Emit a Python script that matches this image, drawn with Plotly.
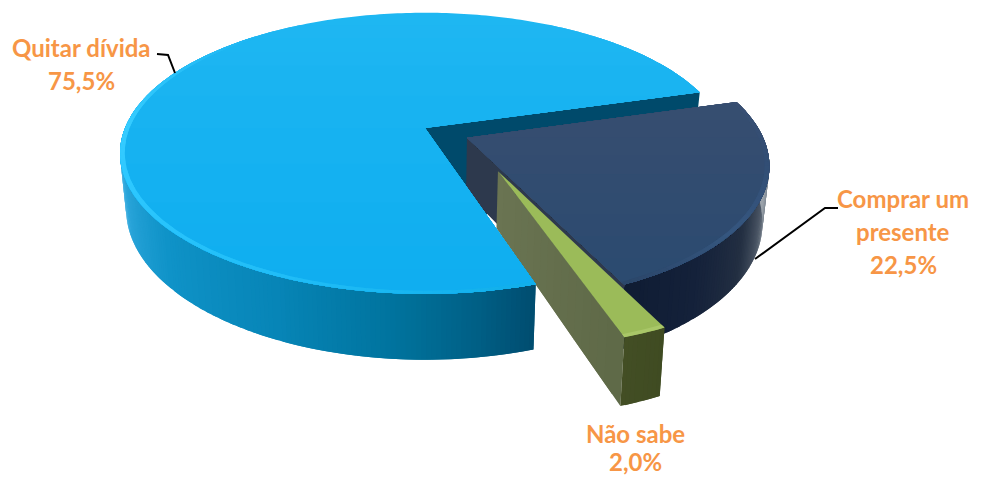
import math

import plotly.graph_objects as go

# Survey answers, listed counter-clockwise around the pie
categories = ["Quitar dívida", "Não sabe", "Comprar um presente"]
shares = [75.5, 2.0, 22.5]
label_lines = [["Quitar dívida"], ["Não sabe"], ["Comprar um", "presente"]]

W, H_PX = 982, 477
START_DEG = 16.0

# Perspective set-up for the tilted disc (pixel axes)
CX, CY = 425.0, 128.0
RX, RY = 300.0, 136.0
PERSP = 0.18
THICK = 54.0
TAPER = 0.02

# Exploded slices: in-plane offset and radius factor
OFFSET = [(0.0, 0.0), (0.23, -0.30), (0.138, -0.07)]
RADIUS = [1.0, 0.95, 0.975]


def project(px, py, z=0.0):
    w = 1.0 / (1.0 + PERSP * py)
    return (CX + RX * px * w * (1 - TAPER * z), CY - RY * py * w + THICK * z * w)


def hex2rgb(c):
    return tuple(int(c[i:i + 2], 16) for i in (1, 3, 5))


def ramp(stops, t):
    t = max(stops[0][0], min(stops[-1][0], t))
    for (t0, c0), (t1, c1) in zip(stops, stops[1:]):
        if t <= t1:
            f = 0 if t1 == t0 else (t - t0) / (t1 - t0)
            a, b = hex2rgb(c0), hex2rgb(c1)
            return "#%02x%02x%02x" % tuple(round(a[i] + (b[i] - a[i]) * f) for i in range(3))
    return stops[-1][1]


fig = go.Figure()


def paint(polys):
    """Add (polygon, colour) pairs in order, merging runs of one colour into a trace."""
    i = 0
    while i < len(polys):
        col = polys[i][1]
        xs, ys = [], []
        while i < len(polys) and polys[i][1] == col:
            poly = polys[i][0]
            xs += [p[0] for p in poly] + [poly[0][0], None]
            ys += [p[1] for p in poly] + [poly[0][1], None]
            i += 1
        fig.add_trace(go.Scatter(x=xs, y=ys, mode="none", fill="toself", fillcolor=col,
                                 hoverinfo="skip"))


def plane(i, theta, r=1.0):
    ox, oy = OFFSET[i]
    rr = RADIUS[i] * r
    return ox + rr * math.cos(theta), oy + rr * math.sin(theta)


def clip_below(poly, level, oy):
    """Keep the part of an in-plane polygon nearer to the viewer than a level line."""
    out = []
    n = len(poly)
    for k in range(n):
        a, b = poly[k], poly[(k + 1) % n]
        ina, inb = a[1] - oy <= level, b[1] - oy <= level
        if ina:
            out.append(a)
        if ina != inb:
            f = (level + oy - a[1]) / (b[1] - a[1])
            out.append((a[0] + (b[0] - a[0]) * f, level + oy))
    return out


def top_face(i, a0, a1, colour, levels=16):
    """Flat face with a soft front-to-back shade built from stacked clipped layers."""
    n = max(6, int(abs(a1 - a0) / math.radians(1)))
    poly = [plane(i, a0, 0.0)] + [plane(i, a0 + (a1 - a0) * k / n) for k in range(n + 1)]
    out = []
    for k in range(levels):
        level = 1.0 - 2.0 * k / levels
        part = clip_below(poly, level, OFFSET[i][1])
        if len(part) >= 3:
            out.append(([project(*p) for p in part], colour(level - 1.0 / levels)))
    return out


def rim_band(i, a0, a1, colour, inner=0.985):
    n = max(4, int(abs(a1 - a0) / math.radians(1.5)))
    out = []
    for k in range(n):
        t0 = a0 + (a1 - a0) * k / n
        t1 = a0 + (a1 - a0) * min(n, k + 2) / n
        pts = [plane(i, t0, inner), plane(i, t1, inner), plane(i, t1), plane(i, t0)]
        out.append(([project(*p) for p in pts], colour(math.degrees(t0))))
    return out


def outer_wall(i, a0, a1, colour):
    n = max(4, int(abs(a1 - a0) / math.radians(0.8)))
    out = []
    for k in range(n):
        t0 = a0 + (a1 - a0) * k / n
        t1 = a0 + (a1 - a0) * min(n, k + 2) / n
        p0, p1 = plane(i, t0), plane(i, t1)
        poly = [project(*p0, 0), project(*p1, 0), project(*p1, 1), project(*p0, 1)]
        out.append((poly, colour(math.degrees(t0))))
    return out


def cut_wall(i, a, c_in, c_out):
    n = 18
    out = []
    ca = plane(i, a, 0.0)
    cb = plane(i, a, 1.0)
    for k in range(n):
        f0, f1 = k / n, min(n, k + 2) / n
        p0 = (ca[0] + (cb[0] - ca[0]) * f0, ca[1] + (cb[1] - ca[1]) * f0)
        p1 = (ca[0] + (cb[0] - ca[0]) * f1, ca[1] + (cb[1] - ca[1]) * f1)
        poly = [project(*p0, 0), project(*p1, 0), project(*p1, 1), project(*p0, 1)]
        out.append((poly, ramp([(0, c_in), (1, c_out)], k / n)))
    return out


# Slice angles follow directly from the shares
edges = [math.radians(START_DEG)]
for s in shares:
    edges.append(edges[-1] + math.radians(s * 3.6))
blue_a, blue_b = edges[0], edges[1]
green_a, green_b = edges[1], edges[2]
navy_a, navy_b = edges[2], edges[3]


def signed(d):
    d = d % 360
    return d - 360 if d > 180 else d


blue_top = lambda y: ramp([(-1, "#0faef0"), (1, "#1fb7f2")], y)
navy_top = lambda y: ramp([(-1, "#2a4a70"), (1, "#3f5070")], y)
green_top = lambda y: "#9bbb59"

blue_rim = lambda d: ramp([(130, "#1eb6f2"), (178, "#36ccff"), (200, "#2ec8ff"), (250, "#1fbcf6"),
                           (288, "#10aeea")], d % 360)
navy_rim = lambda d: ramp([(-66, "#2b4669"), (-40, "#35567f"), (-25, "#34527a"), (-10, "#324e74"),
                           (20, "#3a4f72")], signed(d))

blue_wall = lambda d: ramp([(178, "#d5eefa"), (184, "#9ad6f2"), (190, "#5abce8"), (200, "#2ba5da"),
                            (220, "#0f93c8"), (245, "#0785b7"), (265, "#00739d"), (278, "#005f85"),
                            (288, "#004b6e")], d % 360)
navy_wall = lambda d: ramp([(-66, "#0f1c33"), (-50, "#14213a"), (-35, "#232f42"), (-25, "#4a5564"),
                            (-15, "#7a848f"), (-8, "#9aa2aa"), (16, "#9aa2aa")], signed(d))
green_wall = lambda d: ramp([(-75, "#444f25"), (-65, "#3f4b22")], signed(d))

# Cut face of the large slice sits behind everything else, with the notch behind it
notch = [project(*plane(0, 0, 0.0)), project(*plane(0, blue_a, 0.4)),
         project(*plane(0, blue_a, 0.4), 1), project(*plane(0, blue_b, 0.6))]
paint([(notch, "#004a6b")])
paint(cut_wall(0, blue_a, "#004a6b", "#004a6b"))

# Navy slice
paint(cut_wall(2, navy_a, "#2d394d", "#2d394d"))
paint(outer_wall(2, navy_a, navy_b, navy_wall))
paint(top_face(2, navy_a, navy_b, navy_top))
paint(rim_band(2, navy_a, navy_b, navy_rim))

# Small green slice
paint(cut_wall(1, green_a, "#6a7452", "#5e6947"))
paint(outer_wall(1, green_a, green_b, green_wall))
paint(top_face(1, green_a, green_b, green_top, levels=1))
paint(rim_band(1, green_a, green_b, lambda d: "#a9c768"))

# Large slice comes last: its front edge hides the lower part of the others
paint(outer_wall(0, math.radians(178), blue_b, blue_wall))
paint(top_face(0, blue_a, blue_b, blue_top))
paint(rim_band(0, math.radians(125), blue_b, blue_rim))

# Leader lines
leaders = [
    ([157, 168, 175], [54, 55, 73]),
    ([838, 825, 755], [208, 208, 259]),
]
for lx, ly in leaders:
    fig.add_trace(go.Scatter(x=lx, y=ly, mode="lines", line=dict(color="#000000", width=2),
                             hoverinfo="skip"))

# Data labels, one annotation per text line
label_x = [81, 635, 903]
label_y = [[47, 80], [433, 461], [198, 231, 264]]
for i, lines in enumerate(label_lines):
    texts = lines + [f"{shares[i]:.1f}".replace(".", ",") + "%"]
    for text, y in zip(texts, label_y[i]):
        fig.add_annotation(x=label_x[i], y=y, text=text, showarrow=False, xanchor="center",
                           yanchor="middle",
                           font=dict(family="Lato", size=24, color="#f79646", weight="bold"))

fig.update_layout(
    width=W, height=H_PX, margin=dict(l=0, r=0, t=0, b=0), showlegend=False,
    paper_bgcolor="#ffffff", plot_bgcolor="#ffffff",
    xaxis=dict(range=[0, W], visible=False, fixedrange=True),
    yaxis=dict(range=[H_PX, 0], visible=False, fixedrange=True),
)

fig.write_html("out.html")
